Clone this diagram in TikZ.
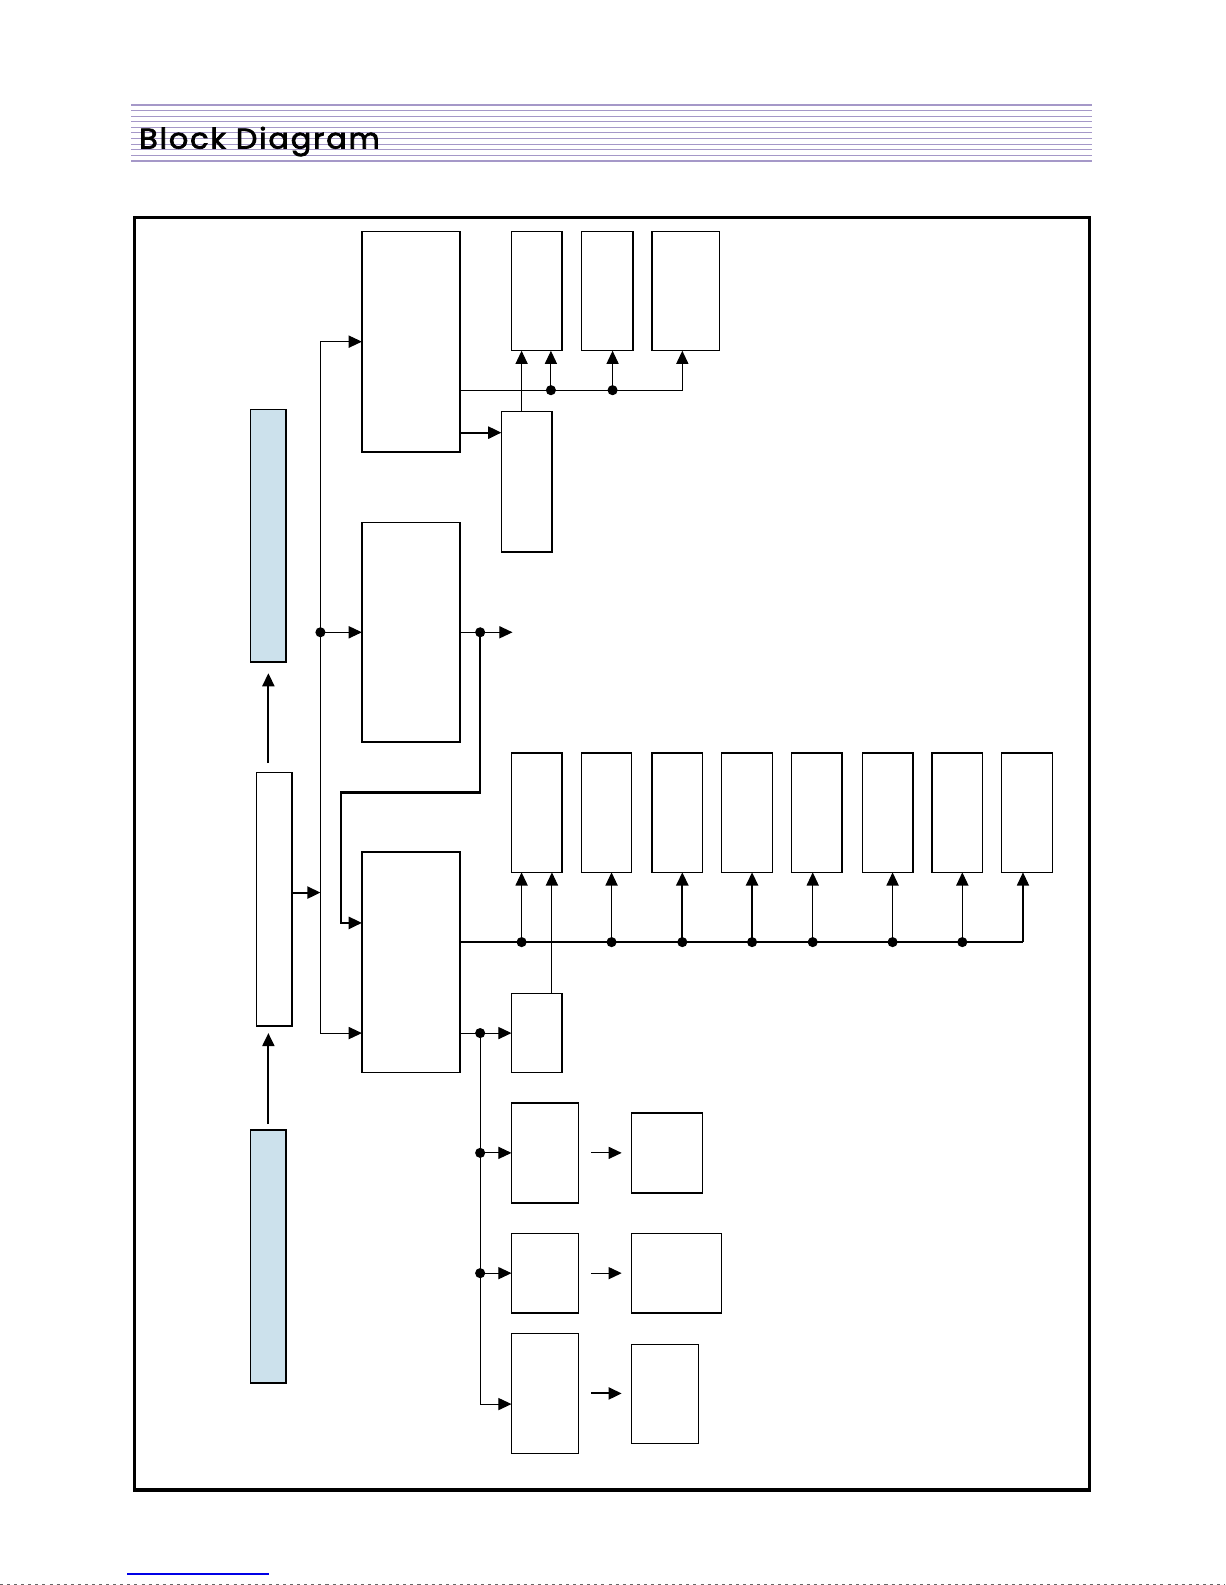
\documentclass[tikz,border=0pt]{standalone}
\usepackage{fontspec}
\usepackage{graphicx}
\usetikzlibrary{arrows.meta,calc}
\definecolor{hdr}{RGB}{165,152,200}
\definecolor{lblue}{RGB}{204,225,236}
\definecolor{linkblue}{RGB}{0,0,230}
\newfontfamily\titlefont[LetterSpace=6,FakeBold=2.5]{Poppins}
\begin{document}
\begin{tikzpicture}[x=1pt,y=-1pt,
  box/.style={draw, line width=1.4pt, fill=white, inner sep=0pt, outer sep=0pt, rectangle},
  bbox/.style={box, fill=lblue},
  wire/.style={line width=1.1pt},
  bus/.style={line width=2pt},
  arr/.style={-{Triangle[length=13pt,width=12pt]}},
  dot/.style={circle, fill=black, inner sep=0pt, minimum size=10pt},
]
\useasboundingbox (0,0) rectangle (1212,1568);
% header
\foreach \i in {1,...,9} { \draw[hdr, line width=1pt] (130,{104+5.5*\i}) -- (1080,{104+5.5*\i}); }
\draw[hdr, line width=2pt] (130,104) -- (1080,104);
\draw[hdr, line width=2pt] (130,159) -- (1080,159);
\node[anchor=base west, inner sep=0pt] (title) at (137.5,147) {\resizebox{238pt}{21.5pt}{\titlefont Block Diagram}};
% frame
\node[draw, line width=3pt, inner sep=0pt, minimum width=945pt, minimum height=1259pt] (frame) at (605.5,844.5) {};
% boxes
\node[bbox, minimum width=35pt, minimum height=250pt] (blueTop) at (265.5,530) {};
\node[bbox, minimum width=35pt, minimum height=250pt] (blueBot) at (265.5,1243) {};
\node[box, minimum width=35pt, minimum height=251pt] (mid) at (271.5,889.5) {};
\node[box, minimum width=97pt, minimum height=218pt] (A) at (406.5,338) {};
\node[box, minimum width=97pt, minimum height=217pt] (B) at (406.5,625.5) {};
\node[box, minimum width=97pt, minimum height=218pt] (C) at (406.5,952) {};
\node[box, minimum width=50pt, minimum height=118pt] (T1) at (531,288) {};
\node[box, minimum width=51pt, minimum height=118pt] (T2) at (600.5,288) {};
\node[box, minimum width=67pt, minimum height=118pt] (T3) at (678.5,288) {};
\node[box, minimum width=50pt, minimum height=139pt] (D) at (521,476.5) {};
\foreach \n/\x in {1/506,2/575,3/645,4/714,5/783,6/853,7/922,8/991}
  \node[box, minimum width=50pt, minimum height=118pt] (R\n) at (\x+25,804) {};
\node[box, minimum width=50pt, minimum height=78pt] (E) at (531,1022) {};
\node[box, minimum width=66pt, minimum height=99pt] (F1) at (539,1140.5) {};
\node[box, minimum width=66pt, minimum height=79pt] (F2) at (539,1259.5) {};
\node[box, minimum width=66pt, minimum height=119pt] (F3) at (539,1378.5) {};
\node[box, minimum width=70pt, minimum height=79pt] (G1) at (660,1140.5) {};
\node[box, minimum width=89pt, minimum height=79pt] (G2) at (669.5,1259.5) {};
\node[box, minimum width=66pt, minimum height=98pt] (G3) at (658,1379) {};
% left column arrows
\draw[bus,arr,shorten <=6pt,shorten >=7pt] (blueBot.north) -- (blueBot.north |- mid.south);
\draw[bus,arr,shorten <=9pt,shorten >=11pt] (blueTop.south |- mid.north) -- (blueTop.south);
% vertical bus
\coordinate (busT) at (317,338);
\coordinate (busM) at (317,625.5);
\coordinate (busB) at (317,1022);
\draw[wire] (busT) -- (busB);
\draw[wire,arr] (busT) -- (A.west);
\draw[wire,arr] (busM) -- (B.west);
\draw[wire,arr] (busB) -- (busB -| C.west);
\coordinate (midOut) at ([yshift=6.5pt]mid.east);
\draw[bus,arr] (midOut) -- (midOut -| busT);
% B output
\coordinate (bo) at (475,625.5);
\coordinate (boEnd) at (507,625.5);
\coordinate (bend1) at (337,784);
\coordinate (cIn1) at ($(C.west)+(0,-39)$);
\draw[wire] (B.east) -- (bo);
\draw[wire,arr] (bo) -- (boEnd);
\draw[bus,arr] (bo) |- (bend1) |- (cIn1);
% A outputs
\coordinate (ab0) at ($(A.east)+(0,48)$);
\coordinate (dT1) at (545,386);
\coordinate (dT2) at (606,386);
\coordinate (t3in) at ($(T3.south)+(-3.5,0)$);
\draw[wire,arr] (ab0) -| (t3in);
\draw[wire,arr] (dT1) -- (dT1 |- T1.south);
\draw[wire,arr] (dT2) -- (dT2 |- T2.south);
\coordinate (dTop) at ($(D.north)+(-5,0)$);
\draw[wire,arr] (dTop) -- (dTop |- T1.south);
\coordinate (aD) at ($(A.east)+(0,90)$);
\draw[bus,arr] (aD) -- (aD -| D.west);
% C outputs
\coordinate (cb0) at ($(C.east)+(0,-20)$);
\coordinate (r8in) at ($(R8.south)+(-4,0)$);
\coordinate (cbEnd) at (r8in |- cb0);
\draw[bus] (cb0) -- (cbEnd);
\draw[wire,arr] (cbEnd) -- (r8in);
\foreach \n/\x in {1/516,2/605,3/675,4/744,5/804,6/883,7/952} {
  \coordinate (cd\n) at (\x,932);
}
\draw[wire,arr] (cd1) -- (cd1 |- R1.south);
\draw[wire,arr] (cd2) -- (cd2 |- R2.south);
\draw[bus,arr] (cd3) -- (cd3 |- R3.south);
\draw[bus,arr] (cd4) -- (cd4 |- R4.south);
\draw[wire,arr] (cd5) -- (cd5 |- R5.south);
\draw[wire,arr] (cd6) -- (cd6 |- R6.south);
\draw[wire,arr] (cd7) -- (cd7 |- R7.south);
\coordinate (eTop) at ($(E.north)+(15,0)$);
\draw[wire,arr] (eTop) -- (eTop |- R1.south);
% C lower output
\coordinate (co) at ($(C.east)+(20,70)$);
\draw[wire] ($(C.east)+(0,70)$) -- (co);
\draw[wire,arr] (co) -- (E.west);
\coordinate (fd1) at (co |- F1.west);
\coordinate (fd2) at (co |- F2.west);
\draw[wire,arr] (co) |- ($(F3.west)+(0,10.5)$);
\draw[wire,arr] (fd1) -- (F1.west);
\draw[wire,arr] (fd2) -- (F2.west);
% F -> G arrows
\coordinate (g1a) at ($(F1.east)+(13,0)$);
\coordinate (g1b) at (g1a -| G1.west);
\coordinate (g2a) at ($(F2.east)+(13,0)$);
\coordinate (g2b) at (g2a -| G2.west);
\coordinate (g3a) at ($(F3.east)+(13,0)$);
\coordinate (g3b) at (g3a -| G3.west);
\draw[wire,arr,shorten >=10pt] (g1a) -- (g1b);
\draw[wire,arr,shorten >=10pt] (g2a) -- (g2b);
\draw[bus,arr,shorten >=10pt] (g3a) -- (g3b);
% dots
\foreach \c in {busM,bo,dT1,dT2,cd1,cd2,cd3,cd4,cd5,cd6,cd7,co,fd1,fd2}
  \node[dot] at (\c) {};
% bottom marks
\draw[linkblue, line width=1.3pt] (126,1557) -- (266,1557);
\draw[black!60, line width=1pt, dash pattern=on 3pt off 4pt] (0,1567) -- (1212,1567);
\end{tikzpicture}
\end{document}
